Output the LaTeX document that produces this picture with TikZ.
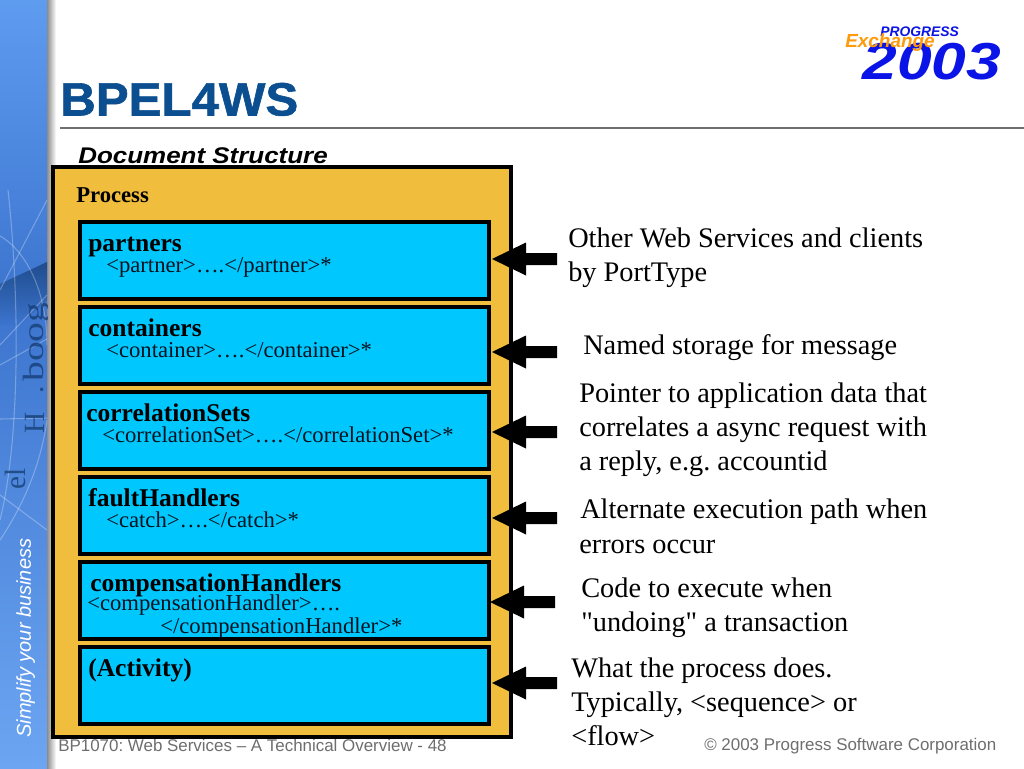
\documentclass[tikz,border=0pt]{standalone}
\usepackage{fontspec}
\setmainfont{Liberation Serif}
\setsansfont{Liberation Sans}
\newfontfamily\plainserif{Liberation Serif}
\newfontfamily\heavysans{Liberation Sans}[BoldFeatures={FakeBold=1.2}]
\frenchspacing
\usetikzlibrary{shadings}
\definecolor{goldfill}{HTML}{F0BE3C}
\definecolor{cyanfill}{HTML}{00C8FF}
\definecolor{titleblue}{HTML}{0B4F90}
\definecolor{logoblue}{HTML}{0A14E6}
\definecolor{logoorange}{HTML}{FF9A0A}
\definecolor{sideA}{HTML}{5E9CF0}
\definecolor{sideB}{HTML}{3C74CE}
\definecolor{sideC}{HTML}{6CA6F2}
\definecolor{footgray}{HTML}{6E6E6E}
\definecolor{inkblue}{HTML}{123A70}
\definecolor{subink}{HTML}{04121E}
\tikzset{
  panel/.style={draw=black,line width=3pt,fill=cyanfill,anchor=north west,inner sep=0pt,outer sep=0pt,minimum width=306.75pt,minimum height=57.75pt},
  head/.style={anchor=base west,font=\bfseries\fontsize{19.15}{19}\selectfont,inner sep=0pt},
  sub/.style={anchor=base west,font=\fontsize{17}{17}\selectfont,text=subink,inner sep=0pt},
  note/.style={anchor=base west,font=\fontsize{21.25}{21}\selectfont,inner sep=0pt},
  foot/.style={anchor=base west,font=\sffamily\fontsize{12.7}{13}\selectfont,text=footgray,inner sep=0pt},
  blockarrow/.style={fill=black,draw=none},
  arc line/.style={draw=white,opacity=.28,line width=.8pt},
  inkmark/.style={anchor=base west,rotate=90,font=\fontsize{22}{22}\selectfont,text=inkblue,opacity=.75,inner sep=0pt}
}
\newcommand{\blockarr}[1]{\fill[blockarrow] (#1) -- ++(34,-16.5) -- ++(0,10.5) -- ++(31,0) -- ++(0,12) -- ++(-31,0) -- ++(0,10.5) -- cycle;}
\begin{document}
\begin{tikzpicture}[x=0.75pt,y=-0.75pt]
\useasboundingbox (0,0) rectangle (1024,768);
\fill[white] (0,0) rectangle (1024,768);
% sidebar
\shade[top color=sideA,bottom color=sideB] (0,0) rectangle (47,300);
\shade[top color=sideB,bottom color=sideC] (0,300) rectangle (47,768);
\shade[left color=black!45,right color=white] (47,0) rectangle (56,768);
\begin{scope}
\clip (0,190) rectangle (47,560);
\shade[top color=inkblue,bottom color=sideB,opacity=.7] (0,284) -- (47,262) -- (47,300) -- (20,325) -- (0,325) -- cycle;
\draw[arc line] (0,236) .. controls (25,250) and (47,290) .. (47,345);
\draw[arc line] (8,190) .. controls (20,300) and (20,440) .. (0,520);
\draw[arc line] (47,200) -- (0,290);
\draw[arc line] (47,295) -- (0,345);
\draw[arc line] (0,365) -- (47,339);
\draw[arc line] (0,419) -- (47,418);
\draw[arc line] (47,420) .. controls (40,470) and (20,510) .. (0,540);
\draw[arc line] (0,495) -- (47,530);
\node[inkmark,xscale=1.35] (mk1) at (43,382) {boog};
\node[inkmark] (mk2) at (43,394) {.};
\node[inkmark] (mk3) at (44,434) {H};
\node[inkmark] (mk4) at (25,490) {el};
\end{scope}
% title
\node[anchor=base west,font=\heavysans\bfseries\fontsize{35}{35}\selectfont,text=titleblue,inner sep=0pt,xscale=1.055] (title) at (60,115.5) {BPEL4WS};
\coordinate (ruleL) at (60,128);
\coordinate (ruleR) at (1024,128);
\draw[draw=footgray,line width=1.5pt] (ruleL) -- (ruleR);
\node[anchor=base west,font=\heavysans\bfseries\itshape\fontsize{17}{17}\selectfont,inner sep=0pt,xscale=1.145] (doc) at (78,163.5) {Document Structure};
% logo
\node[anchor=base west,font=\sffamily\bfseries\itshape\fontsize{10.4}{10}\selectfont,text=logoblue,inner sep=0pt] (prog) at (880,36) {PROGRESS};
\node[anchor=base west,font=\sffamily\bfseries\itshape\fontsize{39}{39}\selectfont,text=logoblue,inner sep=0pt,xscale=1.2] (year) at (862,79) {2003};
\node[anchor=base west,font=\sffamily\bfseries\itshape\fontsize{14.2}{14}\selectfont,text=logoorange,inner sep=0pt] (exch) at (845,47) {Exchange};
% footer
\node[foot] (f1) at (58,751) {BP1070: Web Services – A Technical Overview - 48};
\node[foot] (f2) at (704,750) {© 2003 Progress Software Corporation};
% outer
\node[draw=black,line width=3pt,fill=goldfill,anchor=north west,inner sep=0pt,outer sep=0pt,minimum width=343.5pt,minimum height=427.5pt] (outer) at (53,167) {};
\node[anchor=base west,font=\bfseries\fontsize{17}{17}\selectfont,inner sep=0pt] (proc) at (76,202) {Process};
% panels
\node[panel] (p1) at (80,222) {};
\node[panel] (p2) at (80,307) {};
\node[panel] (p3) at (80,392) {};
\node[panel] (p4) at (80,477) {};
\node[panel] (p5) at (80,562) {};
\node[panel] (p6) at (80,647) {};
\node[head] (h1) at (88,251) {partners};
\node[sub] (s1) at (106,272) {<partner>….</partner>*};
\node[head] (h2) at (88,336) {containers};
\node[sub] (s2) at (106,357) {<container>….</container>*};
\node[head] (h3) at (86,421) {correlationSets};
\node[sub] (s3) at (102,442) {<correlationSet>….</correlationSet>*};
\node[head] (h4) at (88,506) {faultHandlers};
\node[sub] (s4) at (106,527) {<catch>….</catch>*};
\node[head] (h5) at (90,591) {compensationHandlers};
\node[sub] (s5) at (87,610) {<compensationHandler>….};
\node[sub] (s5b) at (160,633) {</compensationHandler>*};
\node[head] (h6) at (88,676) {(Activity)};
% arrows
\coordinate (a1) at (492,259);
\coordinate (a2) at (492,352);
\coordinate (a3) at (492,432);
\coordinate (a4) at (492,518);
\coordinate (a5) at (490,602);
\coordinate (a6) at (492,683);
\blockarr{a1} \blockarr{a2} \blockarr{a3} \blockarr{a4} \blockarr{a5} \blockarr{a6}
% notes
\node[note] (n1a) at (568,247) {Other Web Services and clients};
\node[note] (n1b) at (568,281) {by PortType};
\node[note] (n2) at (583,354) {Named storage for message};
\node[note] (n3a) at (579,402) {Pointer to application data that};
\node[note] (n3b) at (579,436) {correlates a async request with};
\node[note] (n3c) at (579,470) {a reply, e.g. accountid};
\node[note] (n4a) at (580,518) {Alternate execution path when};
\node[note] (n4b) at (579,553) {errors occur};
\node[note] (n5a) at (581,597) {Code to execute when};
\node[note] (n5b) at (581,631) {\plainserif "undoing" a transaction};
\node[note] (n6a) at (571,677) {What the process does.};
\node[note] (n6b) at (571,711) {Typically, <sequence> or};
\node[note] (n6c) at (571,745) {<flow>};
\node[anchor=base west,rotate=90,font=\sffamily\itshape\fontsize{15}{15}\selectfont,text=white,inner sep=0pt] (side) at (31,738) {Simplify your business};
\end{tikzpicture}
\end{document}
